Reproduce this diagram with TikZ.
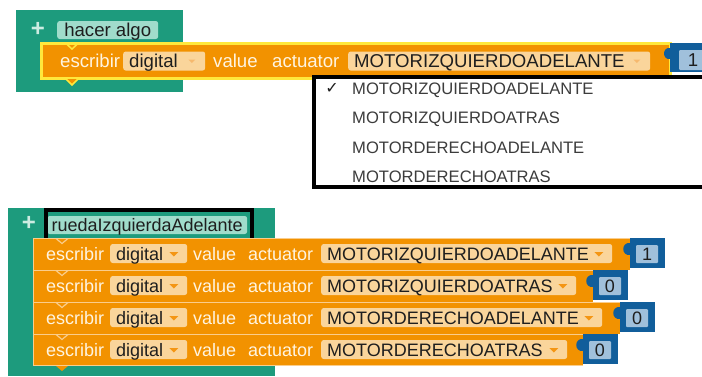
\documentclass[tikz,border=0pt]{standalone}
\usepackage{fontspec}
\setmainfont{Liberation Sans}
\newfontfamily\symfont{DejaVu Sans}
\usetikzlibrary{calc}
\definecolor{grn}{RGB}{29,155,125}
\definecolor{grnL}{RGB}{160,220,203}
\definecolor{org}{RGB}{242,146,0}
\definecolor{orgL}{RGB}{250,205,140}
\definecolor{peach}{RGB}{250,213,155}
\definecolor{cream}{RGB}{255,244,224}
\definecolor{yel}{RGB}{255,232,60}
\definecolor{bluD}{RGB}{17,94,155}
\definecolor{bluL}{RGB}{160,192,219}
\definecolor{dtxt}{RGB}{30,30,30}
\definecolor{mtxt}{RGB}{60,60,60}
\definecolor{arr}{RGB}{244,150,20}
\definecolor{arrL}{RGB}{246,185,110}
\definecolor{plusc}{RGB}{205,236,226}
\begin{document}
\begin{tikzpicture}[x=1pt,y=-1pt,
  f18/.style={font=\fontsize{18}{20}\selectfont},
  f186/.style={font=\fontsize{18.6}{20}\selectfont},
  wtxt/.style={text=cream, anchor=west, inner sep=0pt, text height=15pt, text depth=2pt},
  ddbox/.style={fill=peach, rounded corners=2.5pt, inner xsep=6pt, inner ysep=1pt, text height=15pt, text depth=2pt, anchor=west, text=dtxt},
  lblG/.style={fill=grnL, rounded corners=2.5pt, inner sep=0pt, text height=15pt, text depth=2pt, minimum height=18pt, anchor=west, text=dtxt},
  valo/.style={fill=bluD, anchor=north west, inner sep=0pt, minimum width=35pt, minimum height=30pt},
  vali/.style={f18, fill=bluL, inner sep=0pt, minimum width=22pt, minimum height=18pt, text=dtxt, rounded corners=1pt},
  plus/.style={font=\fontsize{24}{24}\selectfont\bfseries, text=plusc, inner sep=0pt},
  item/.style={font=\fontsize{16.6}{18}\selectfont, text=mtxt, anchor=west, inner sep=0pt, text height=14pt, text depth=2pt}
]
\useasboundingbox (0,0) rectangle (702,376);
\clip (0,0) rectangle (702,376);

% ---------------- top block ----------------
\fill[grn] (16,10) rectangle (183,92);
\node[plus] (plus1) at (38,29) {+};
\node[lblG, f186, minimum width=101pt] (hdr1) at (57,30) {hacer algo};
% selected orange statement
\draw[fill=org, draw=yel, line width=3pt] (41.5,43.5) rectangle (670,78.5);
\draw[yel, line width=1.5pt] (66,43.5) -- (72,49) -- (78,43.5);
\filldraw[fill=org, draw=yel, line width=1.5pt] (66,79) -- (72,85) -- (78,79);
\node[wtxt, f186] (esc0) at (60,61) {escribir};
\node[ddbox, f186] (dig0) at (123,61) {\makebox[70pt][l]{digital}};
\fill[arrL] ($(dig0.east)+(-17,-1.5)$) -- ++(7,0) -- ++(-3.5,3.5) -- cycle;
\node[wtxt, f186] (val0) at (213,61) {value};
\node[wtxt, f186] (act0) at (272,61) {actuator};
\node[ddbox, f186] (mot0) at (348,61) {\makebox[290pt][l]{MOTORIZQUIERDOADELANTE}};
\fill[arrL] ($(mot0.east)+(-17,-1.5)$) -- ++(7,0) -- ++(-3.5,3.5) -- cycle;
\node[valo, minimum width=40pt, minimum height=29pt] (vo0) at (670,43) {};
\fill[bluD] (670,48) .. controls (662,47) and (662,60) .. (670,59) -- cycle;
\node[vali, f186, minimum width=28pt, minimum height=20pt] (vi0) at (693,60) {1};

% dropdown menu
\node[draw=black, line width=4pt, fill=white, anchor=north west, inner sep=0pt,
      minimum width=410pt, minimum height=110pt] (menu) at (312,75) {};
\node[font=\symfont\fontsize{16}{16}\selectfont, text=dtxt, inner sep=0pt] (chk) at (332,88) {✓};
\node[item] (it1) at (352,88) {MOTORIZQUIERDOADELANTE};
\node[item] (it2) at (352,117) {MOTORIZQUIERDOATRAS};
\node[item] (it3) at (352,147) {MOTORDERECHOADELANTE};
\node[item] (it4) at (352,176) {MOTORDERECHOATRAS};

% ---------------- bottom block ----------------
\fill[grn] (8,208) rectangle (275,376);
\node[plus] (plus2) at (29,223) {+};
\node[lblG, f18, minimum width=200pt] (hdr2) at (47,225) {ruedaIzquierdaAdelante};
\node[draw=black, line width=4pt, anchor=north west, inner sep=0pt,
      minimum width=206pt, minimum height=30pt] (hl) at (44,208) {};

\foreach \i/\t/\e/\w/\m/\v in {1/238/630/291/MOTORIZQUIERDOADELANTE/1,
                               2/270/593/255/MOTORIZQUIERDOATRAS/0,
                               3/302/620/281/MOTORDERECHOADELANTE/0,
                               4/334/583/246/MOTORDERECHOATRAS/0}{
  \pgfmathsetmacro{\tw}{\w-12}
  \pgfmathsetmacro{\cy}{\t+15.5}
  \fill[org] (33,\t) rectangle (\e,{\t+32});
  \draw[orgL, line width=1pt] (33,{\t+0.5}) -- (\e,{\t+0.5});
  \draw[orgL, line width=1pt] (33.5,\t) -- (33.5,{\t+32});
  \draw[orgL, line width=1.2pt] (56,{\t+0.5}) -- (62,{\t+5.5}) -- (68,{\t+0.5});
  \node[wtxt, f18] (esc\i) at (46,\cy) {escribir};
  \node[ddbox, f18] (dig\i) at (110,\cy) {\makebox[65pt][l]{digital}};
  \fill[arr] ($(dig\i.east)+(-18,-1.5)$) -- ++(9,0) -- ++(-4.5,4.5) -- cycle;
  \node[wtxt, f18] (val\i) at (193,\cy) {value};
  \node[wtxt, f18] (act\i) at (248,\cy) {actuator};
  \node[ddbox, f18] (mot\i) at (321,\cy) {\makebox[\tw pt][l]{\m}};
  \fill[arr] ($(mot\i.east)+(-18,-1.5)$) -- ++(9,0) -- ++(-4.5,4.5) -- cycle;
  \node[valo] (vo\i) at (\e,\t) {};
  \fill[bluD] (\e,{\t+5}) .. controls ({\e-9},{\t+4}) and ({\e-9},{\t+18}) .. (\e,{\t+17}) -- cycle;
  \node[vali] (vi\i) at ($(vo\i.north west)+(17,16)$) {\v};
}
\draw[orgL, line width=1pt] (33,365.5) -- (583,365.5);
\fill[org] (56,366) -- (68,366) -- (62,371) -- cycle;
\end{tikzpicture}
\end{document}
